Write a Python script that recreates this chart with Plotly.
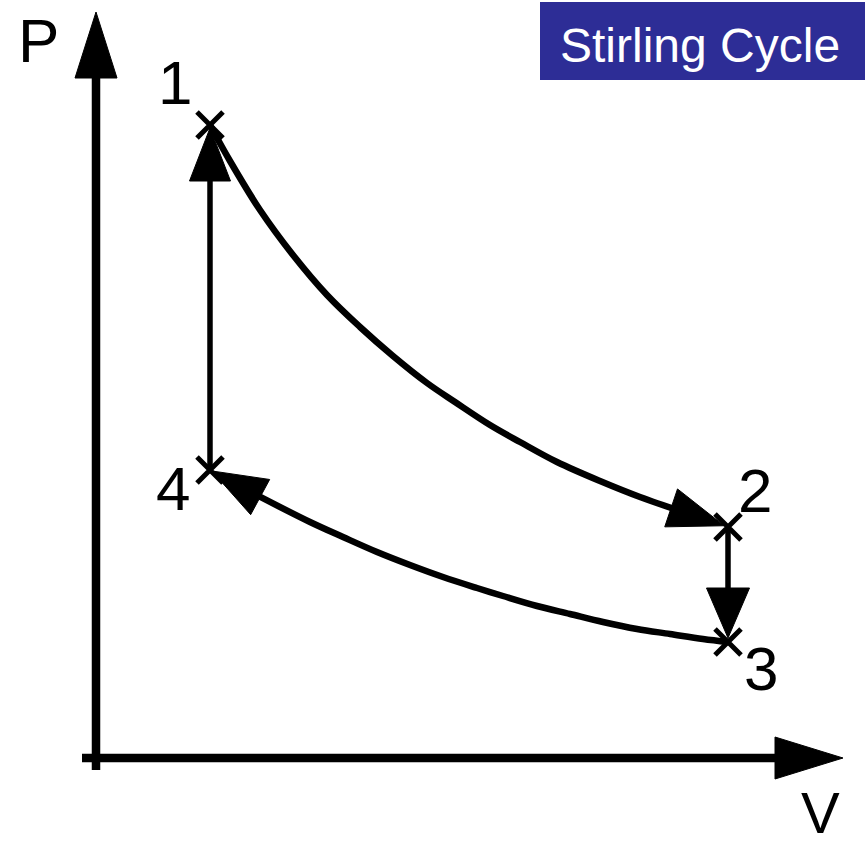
import numpy as np
import plotly.graph_objects as go

# ---------------- data (arbitrary units) ----------------
state_labels = ["1", "2", "3", "4"]
state_V = [1.14, 6.32, 6.32, 1.14]
state_P = [6.33, 2.31, 1.16, 2.88]

# isothermal expansion 1 -> 2
hot_V = [1.14, 1.34, 1.64, 1.97, 2.31, 2.64, 2.97, 3.31, 3.59, 3.94, 4.24, 4.61, 5.04, 5.44, 5.84, 6.32]
hot_P = [6.33, 5.97, 5.48, 5.03, 4.63, 4.31, 4.02, 3.75, 3.56, 3.33, 3.16, 2.96, 2.77, 2.61, 2.47, 2.31]

# isothermal compression 3 -> 4
cold_V = [6.32, 6.07, 5.74, 5.41, 5.07, 4.74, 4.41, 4.07, 3.81, 3.47, 3.14, 2.81, 2.47, 2.14, 1.64, 1.14]
cold_P = [1.16, 1.19, 1.24, 1.29, 1.36, 1.44, 1.52, 1.62, 1.70, 1.81, 1.93, 2.06, 2.21, 2.36, 2.61, 2.88]

axis_V_extent = [-0.14, 7.47]
axis_P_extent = [-0.12, 7.46]
axis_label_V = "V"
axis_label_P = "P"
title_text = "Stirling Cycle"

FONT = "Liberation Sans, Arial, sans-serif"


def arrow_geom(xs, ys, length, width, backoff=0.0):
    """Return (line_x, line_y, head_x, head_y) for a polyline ending in an arrowhead."""
    pts = np.column_stack([np.asarray(xs, float), np.asarray(ys, float)])
    end = pts[-1]
    d_end = end - pts[-2]
    d_end /= np.linalg.norm(d_end)
    tip = end - backoff * d_end
    rev = np.vstack([tip, pts[::-1][1:]])
    acc = 0.0
    base = rev[-1]
    cut = len(rev) - 1
    for i in range(len(rev) - 1):
        a, b = rev[i], rev[i + 1]
        seg = np.linalg.norm(b - a)
        if acc + seg >= length:
            t = (length - acc) / seg
            base = a + t * (b - a)
            cut = i + 1
            break
        acc += seg
    d = tip - base
    d /= np.linalg.norm(d)
    bc = tip - length * d
    n = np.array([-d[1], d[0]])
    c1 = bc + n * width / 2
    c2 = bc - n * width / 2
    head_x = [tip[0], c1[0], c2[0], tip[0]]
    head_y = [tip[1], c1[1], c2[1], tip[1]]
    keep = rev[cut:][::-1]
    line_end = tip - 0.8 * length * d
    line = np.vstack([keep, line_end]) if len(keep) else np.vstack([pts[0], line_end])
    return line[:, 0].tolist(), line[:, 1].tolist(), head_x, head_y


fig = go.Figure()


def add_arrow(xs, ys, lw, length, width, backoff=0.0, shape="linear"):
    lx, ly, hx, hy = arrow_geom(xs, ys, length, width, backoff)
    fig.add_trace(go.Scatter(x=lx, y=ly, mode="lines",
                             line=dict(color="black", width=lw, shape=shape),
                             hoverinfo="skip"))
    fig.add_trace(go.Scatter(x=hx, y=hy, mode="lines", fill="toself",
                             fillcolor="black", line=dict(color="black", width=1),
                             hoverinfo="skip"))


# axes
add_arrow([axis_V_extent[0], axis_V_extent[1]], [0, 0], 8.5, 0.68, 0.42)
add_arrow([0, 0], [axis_P_extent[0], axis_P_extent[1]], 8.5, 0.66, 0.42)

# process paths
add_arrow(hot_V, hot_P, 6.5, 0.56, 0.40, backoff=0.04, shape="spline")          # 1 -> 2
add_arrow([state_V[1], state_V[2]], [state_P[1], state_P[2]], 5.5, 0.50, 0.43, backoff=0.04)  # 2 -> 3
add_arrow(cold_V, cold_P, 6.5, 0.55, 0.40, backoff=0.02, shape="spline")        # 3 -> 4
add_arrow([state_V[3], state_V[0]], [state_P[3], state_P[0]], 5.5, 0.53, 0.41, backoff=0.03)  # 4 -> 1

# state markers
fig.add_trace(go.Scatter(x=state_V, y=state_P, mode="markers",
                         marker=dict(symbol="x-thin", size=26,
                                     line=dict(color="black", width=5)),
                         hoverinfo="skip"))

annotations = []
label_shift = [(-35, 43), (27, 37), (33, -26), (-37, -18)]
for lab, v, p, (dx, dy) in zip(state_labels, state_V, state_P, label_shift):
    annotations.append(dict(x=v, y=p, xref="x", yref="y", text=lab, showarrow=False,
                            xshift=dx, yshift=dy, xanchor="center", yanchor="middle",
                            font=dict(family=FONT, size=62, color="black")))

annotations.append(dict(x=axis_V_extent[1], y=0, xref="x", yref="y", text=axis_label_V,
                        showarrow=False, xshift=-23, yshift=-54,
                        xanchor="center", yanchor="middle",
                        font=dict(family=FONT, size=58, color="black")))
annotations.append(dict(x=0, y=axis_P_extent[1], xref="x", yref="y", text=axis_label_P,
                        showarrow=False, xshift=-58, yshift=-28,
                        xanchor="center", yanchor="middle",
                        font=dict(family=FONT, size=62, color="black")))
annotations.append(dict(x=700 / 865, y=1 - 45 / 846, xref="paper", yref="paper", text=title_text,
                        showarrow=False, xanchor="center", yanchor="middle",
                        font=dict(family=FONT, size=48, color="white")))

fig.update_layout(
    width=865, height=846, autosize=False,
    margin=dict(l=0, r=0, t=0, b=0),
    paper_bgcolor="white", plot_bgcolor="white",
    showlegend=False,
    xaxis=dict(range=[-0.96, 7.69], visible=False, fixedrange=True),
    yaxis=dict(range=[-0.88, 7.58], visible=False, fixedrange=True),
    shapes=[dict(type="rect", xref="paper", yref="paper",
                 x0=540 / 865, x1=1.0, y0=1 - 80 / 846, y1=1 - 2 / 846,
                 fillcolor="#2D2D96", line=dict(width=0), layer="below")],
    annotations=annotations,
)

fig.write_html(
    "out.html",
    config={"displayModeBar": False, "staticPlot": True},
    post_script="document.body.style.margin='0px';document.body.style.padding='0px';"
                "document.body.style.overflow='hidden';",
)
